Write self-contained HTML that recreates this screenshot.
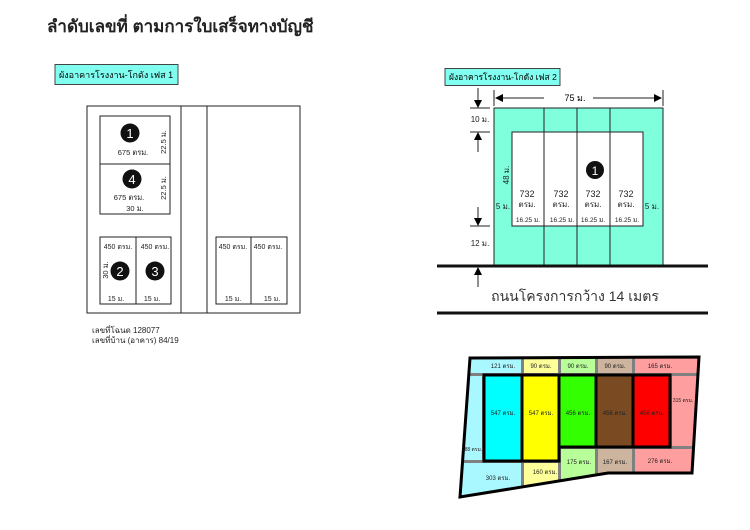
<!DOCTYPE html>
<html><head><meta charset="utf-8"><style>
html,body{margin:0;padding:0;background:#fff;}
svg{display:block;font-family:"Liberation Sans","DejaVu Sans",sans-serif;}
</style></head><body>
<svg width="750" height="530" viewBox="0 0 750 530" xmlns="http://www.w3.org/2000/svg">
<defs>
<marker id="ah" markerWidth="8" markerHeight="8" refX="7" refY="4" orient="auto" markerUnits="userSpaceOnUse"><path d="M0,0 L8,4 L0,8 z" fill="#000"/></marker>
<clipPath id="lot"><polygon points="470,358 699,357 692,473 608,473 460,497"/></clipPath>
</defs>
<text x="47" y="32" font-size="17" font-weight="bold" fill="#222">ลำดับเลขที่ ตามการใบเสร็จทางบัญชี</text>

<!-- Phase 1 -->
<rect x="55" y="64.5" width="123" height="20" fill="#80fff0" stroke="#444" stroke-width="1"/>
<text x="59" y="78" font-size="9">ผังอาคารโรงงาน-โกดัง เฟส 1</text>
<g fill="none" stroke="#222" stroke-width="1">
<rect x="87" y="106" width="213" height="207"/>
<line x1="181" y1="106" x2="181" y2="313"/>
<line x1="207" y1="106" x2="207" y2="313"/>
<rect x="100" y="116" width="70" height="98"/>
<line x1="100" y1="164" x2="170" y2="164"/>
<rect x="100" y="237" width="71" height="67"/>
<line x1="136" y1="237" x2="136" y2="304"/>
<rect x="216" y="237" width="71" height="67"/>
<line x1="251" y1="237" x2="251" y2="304"/>
</g>
<g font-size="7.5" fill="#222">
<circle cx="130" cy="133" r="9.5" fill="#111"/><text x="130" y="138" font-size="13" fill="#fff" text-anchor="middle">1</text>
<text x="133" y="155" text-anchor="middle">675 ตรม.</text>
<circle cx="132" cy="179" r="9.5" fill="#111"/><text x="132" y="184" font-size="13" fill="#fff" text-anchor="middle">4</text>
<text x="129" y="200" text-anchor="middle">675 ตรม.</text>
<text x="135" y="211" text-anchor="middle">30 ม.</text>
<text transform="translate(166,142) rotate(-90)" text-anchor="middle">22.5 ม.</text>
<text transform="translate(166,188) rotate(-90)" text-anchor="middle">22.5 ม.</text>
<text x="118" y="249" text-anchor="middle" font-size="7">450 ตรม.</text>
<text x="155" y="249" text-anchor="middle" font-size="7">450 ตรม.</text>
<text transform="translate(108,270) rotate(-90)" text-anchor="middle">30 ม.</text>
<circle cx="120" cy="271" r="9.5" fill="#111"/><text x="120" y="276" font-size="13" fill="#fff" text-anchor="middle">2</text>
<circle cx="155" cy="271" r="9.5" fill="#111"/><text x="155" y="276" font-size="13" fill="#fff" text-anchor="middle">3</text>
<text x="116" y="301" text-anchor="middle" font-size="7">15 ม.</text>
<text x="152" y="301" text-anchor="middle" font-size="7">15 ม.</text>
<text x="233" y="249" text-anchor="middle" font-size="7">450 ตรม.</text>
<text x="268" y="249" text-anchor="middle" font-size="7">450 ตรม.</text>
<text x="233" y="301" text-anchor="middle" font-size="7">15 ม.</text>
<text x="272" y="301" text-anchor="middle" font-size="7">15 ม.</text>
<text x="92" y="333" font-size="8">เลขที่โฉนด 128077</text>
<text x="92" y="343" font-size="8">เลขที่บ้าน (อาคาร) 84/19</text>
</g>

<!-- Phase 2 -->
<rect x="445" y="68.5" width="115" height="17" fill="#80fff0" stroke="#444" stroke-width="1"/>
<text x="449" y="80" font-size="8.5">ผังอาคารโรงงาน-โกดัง เฟส 2</text>
<rect x="494" y="108" width="169" height="157" fill="#80ffdc" stroke="#222" stroke-width="1"/>
<rect x="512" y="132" width="131" height="94" fill="#fff" stroke="#222" stroke-width="1"/>
<g stroke="#222" stroke-width="1">
<line x1="544" y1="108" x2="544" y2="265"/>
<line x1="577" y1="108" x2="577" y2="265"/>
<line x1="610" y1="108" x2="610" y2="265"/>
</g>
<line x1="437" y1="266" x2="708" y2="266" stroke="#111" stroke-width="3"/>
<line x1="437" y1="313" x2="708" y2="313" stroke="#111" stroke-width="3"/>
<text x="575" y="301" font-size="14" text-anchor="middle" fill="#333">ถนนโครงการกว้าง 14 เมตร</text>
<line x1="494" y1="90" x2="494" y2="106" stroke="#222"/>
<line x1="663" y1="90" x2="663" y2="106" stroke="#222"/>
<line x1="544" y1="98" x2="496" y2="98" stroke="#222" marker-end="url(#ah)"/>
<line x1="593" y1="98" x2="661" y2="98" stroke="#222" marker-end="url(#ah)"/>
<text x="575" y="101" font-size="9" text-anchor="middle">75 ม.</text>
<g stroke="#222">
<line x1="478" y1="88" x2="478" y2="107" marker-end="url(#ah)"/>
<line x1="470" y1="108" x2="490" y2="108"/>
<line x1="478" y1="152" x2="478" y2="133" marker-end="url(#ah)"/>
<line x1="470" y1="132" x2="490" y2="132"/>
<line x1="478" y1="207" x2="478" y2="225" marker-end="url(#ah)"/>
<line x1="470" y1="226" x2="490" y2="226"/>
<line x1="478" y1="287" x2="478" y2="268" marker-end="url(#ah)"/>
</g>
<g font-size="8" fill="#222">
<text x="480" y="122" text-anchor="middle">10 ม.</text>
<text x="480" y="246" text-anchor="middle">12 ม.</text>
<text transform="translate(509,175) rotate(-90)" text-anchor="middle">48 ม.</text>
<text x="503" y="209" text-anchor="middle">5 ม.</text>
<text x="652" y="209" text-anchor="middle">5 ม.</text>
<circle cx="595" cy="170" r="9" fill="#111"/><text x="595" y="175" font-size="12" fill="#fff" text-anchor="middle">1</text>
<text x="527" y="197" text-anchor="middle" font-size="9">732</text><text x="527" y="207" text-anchor="middle">ตรม.</text>
<text x="561" y="197" text-anchor="middle" font-size="9">732</text><text x="561" y="207" text-anchor="middle">ตรม.</text>
<text x="593" y="197" text-anchor="middle" font-size="9">732</text><text x="593" y="207" text-anchor="middle">ตรม.</text>
<text x="626" y="197" text-anchor="middle" font-size="9">732</text><text x="626" y="207" text-anchor="middle">ตรม.</text>
<g font-size="6.5"><text x="528" y="222" text-anchor="middle">16.25 ม.</text><text x="562" y="222" text-anchor="middle">16.25 ม.</text><text x="593" y="222" text-anchor="middle">16.25 ม.</text><text x="627" y="222" text-anchor="middle">16.25 ม.</text></g>
</g>

<!-- Lot map -->
<g clip-path="url(#lot)">
<rect x="450" y="350" width="260" height="160" fill="#808080"/>
<rect x="460" y="357" width="61" height="16" fill="#aaf8ff"/>
<rect x="524" y="357" width="34" height="16" fill="#ffff99"/>
<rect x="561" y="357" width="34" height="16" fill="#b8ff99"/>
<rect x="598" y="357" width="34" height="16" fill="#ccb49e"/>
<rect x="635" y="357" width="70" height="16" fill="#ff9e9e"/>
<rect x="458" y="376" width="24" height="84" fill="#aaf8ff"/>
<rect x="458" y="463" width="63" height="40" fill="#aaf8ff"/>
<rect x="524" y="463" width="34" height="40" fill="#ffff99"/>
<rect x="561" y="449" width="34" height="40" fill="#b8ff99"/>
<rect x="598" y="449" width="34" height="40" fill="#ccb49e"/>
<rect x="635" y="449" width="70" height="40" fill="#ff9e9e"/>
<rect x="672" y="376" width="35" height="70" fill="#ff9e9e"/>
</g>
<g stroke="#000" stroke-width="3">
<rect x="484" y="375" width="38" height="86" fill="#00ffff"/>
<rect x="522" y="375" width="37" height="86" fill="#ffff00"/>
<rect x="559" y="375" width="37" height="72" fill="#33ff00"/>
<rect x="596" y="375" width="37" height="72" fill="#7a4a22"/>
<rect x="633" y="375" width="37" height="72" fill="#ff0000"/>
</g>
<polygon points="470,358 699,357 692,473 608,473 460,497" fill="none" stroke="#000" stroke-width="3"/>
<g font-size="6" fill="#222" text-anchor="middle">
<text x="503" y="368">121 ตรม.</text><text x="541" y="368">90 ตรม.</text><text x="578" y="368">90 ตรม.</text><text x="615" y="368">90 ตรม.</text><text x="660" y="368">165 ตรม.</text>
<text x="503" y="415">547 ตรม.</text><text x="541" y="415">547 ตรม.</text><text x="578" y="415">456 ตรม.</text><text x="615" y="415">456 ตรม.</text><text x="652" y="415">456 ตรม.</text>
<text x="683" y="402" font-size="5">315 ตรม.</text><text x="472" y="451" font-size="5">288 ตรม.</text>
<text x="498" y="480">303 ตรม.</text><text x="545" y="474">160 ตรม.</text><text x="579" y="464">175 ตรม.</text><text x="615" y="464">167 ตรม.</text><text x="660" y="463">276 ตรม.</text>
</g>
</svg>
</body></html>
